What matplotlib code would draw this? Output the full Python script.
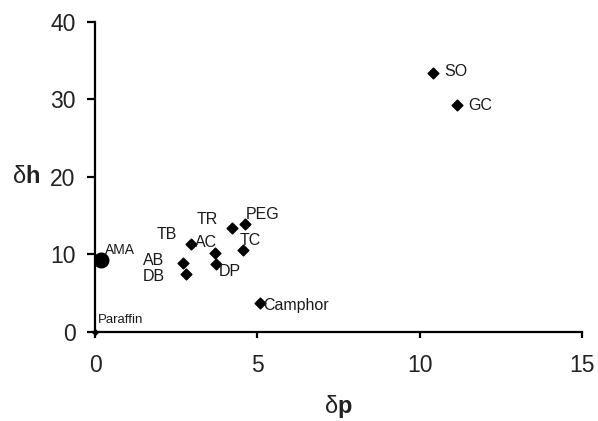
import matplotlib
matplotlib.use('Agg')
import matplotlib.pyplot as plt

plt.rcParams['font.family'] = ['Liberation Sans', 'DejaVu Sans']
plt.rcParams['mathtext.fontset'] = 'custom'
plt.rcParams['mathtext.rm'] = 'Liberation Sans'
plt.rcParams['mathtext.bf'] = 'Liberation Sans:bold'

# 溶剂数据 (δp, δh)
names = ['AB', 'DB', 'TB', 'AC', 'DP', 'TR', 'PEG', 'TC', 'Camphor', 'SO', 'GC']
dp = [2.72, 2.8, 2.97, 3.69, 3.74, 4.23, 4.63, 4.57, 5.08, 10.41, 11.15]
dh = [8.9, 7.4, 11.3, 10.2, 8.7, 13.4, 13.9, 10.6, 3.66, 33.4, 29.3]
ama_p, ama_h = [0.18], [9.3]
paraffin_p, paraffin_h = [0.0], [0.0]

# 标签偏移 (像素, 相对于点)
label_offsets = {
    'AB': (-40, 2), 'DB': (-43, -2), 'TB': (-35, 10), 'AC': (-20, 10),
    'DP': (2, -7), 'TR': (-36, 8), 'PEG': (0, 9), 'TC': (-4, 9),
    'Camphor': (3, -2), 'SO': (11, 1), 'GC': (11, -1),
}

fig = plt.figure(figsize=(5.98, 4.21), dpi=100)
ax = fig.add_axes([0.1589, 0.2121, 0.8143, 0.7364])

ax.scatter(dp, dh, marker='D', s=30, color='black', zorder=3)
ax.scatter(ama_p, ama_h, marker='o', s=110, color='black', zorder=3)
ax.scatter(paraffin_p, paraffin_h, marker='D', s=8, color='black', zorder=3, clip_on=False)

for n, x, y in zip(names, dp, dh):
    ox, oy = label_offsets[n]
    ax.annotate(n, (x, y), xytext=(ox, oy), textcoords='offset pixels',
                ha='left', va='center', fontsize=11.5, color='#1a1a1a')
ax.annotate('AMA', (ama_p[0], ama_h[0]), xytext=(4, 10), textcoords='offset pixels',
            ha='left', va='center', fontsize=10, color='#1a1a1a')
ax.annotate('Paraffin', (paraffin_p[0], paraffin_h[0]), xytext=(3, 12), textcoords='offset pixels',
            ha='left', va='center', fontsize=9.5, color='#1a1a1a')

ax.set_xlim(0, 15)
ax.set_ylim(0, 40)
ax.set_xticks([0, 5, 10, 15])
ax.set_yticks([0, 10, 20, 30, 40])
ax.spines['top'].set_visible(False)
ax.spines['right'].set_visible(False)
for s in ['left', 'bottom']:
    ax.spines[s].set_linewidth(1.6)
ax.tick_params(axis='x', length=4, width=1.6, pad=12, labelsize=16.5, labelcolor='#222222')
ax.tick_params(axis='y', length=6, width=1.6, pad=8, labelsize=16.5, labelcolor='#222222')

fig.text(0.0435, 0.5646, r'$\mathrm{\delta}\mathbf{h}$', fontsize=17,
         ha='center', va='baseline', color='#222222')
fig.text(0.565, 0.019, r'$\mathrm{\delta}\mathbf{p}$', fontsize=17,
         ha='center', va='baseline', color='#222222')

fig.savefig('out.png', dpi=100)
